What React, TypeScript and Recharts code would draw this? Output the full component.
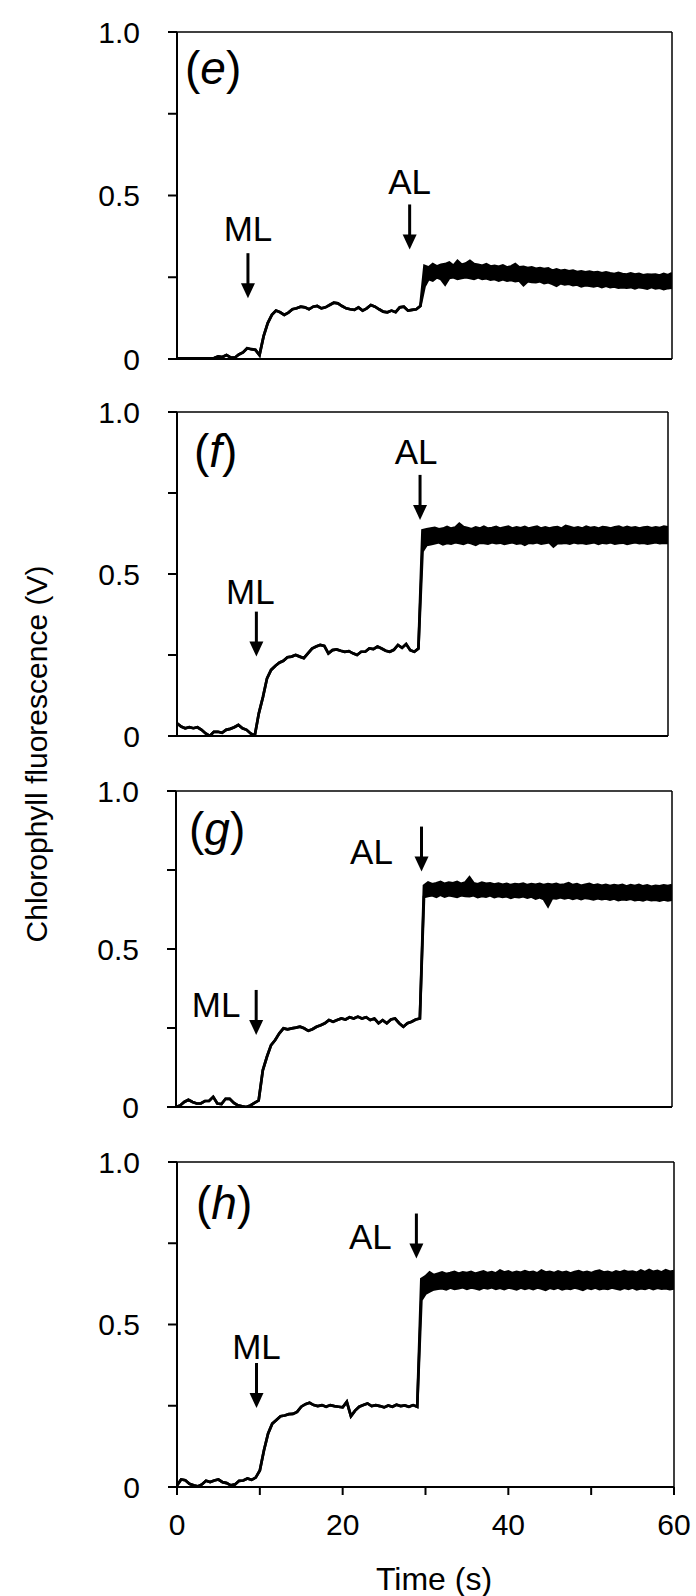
import React from "react";
import {
  ComposedChart,
  Area,
  XAxis,
  YAxis,
  ReferenceLine,
  ReferenceDot,
} from "recharts";

// sampling times (s), every 0.5 s
const times = [
  0, 0.5, 1, 1.5, 2, 2.5, 3, 3.5, 4, 4.5, 5, 5.5, 6, 6.5, 7, 7.5, 8, 8.5, 9, 9.5,
  10, 10.5, 11, 11.5, 12, 12.5, 13, 13.5, 14, 14.5, 15, 15.5, 16, 16.5, 17, 17.5, 18, 18.5, 19, 19.5,
  20, 20.5, 21, 21.5, 22, 22.5, 23, 23.5, 24, 24.5, 25, 25.5, 26, 26.5, 27, 27.5, 28, 28.5, 29, 29.5,
  30, 30.5, 31, 31.5, 32, 32.5, 33, 33.5, 34, 34.5, 35, 35.5, 36, 36.5, 37, 37.5, 38, 38.5, 39, 39.5,
  40, 40.5, 41, 41.5, 42, 42.5, 43, 43.5, 44, 44.5, 45, 45.5, 46, 46.5, 47, 47.5, 48, 48.5, 49, 49.5,
  50, 50.5, 51, 51.5, 52, 52.5, 53, 53.5, 54, 54.5, 55, 55.5, 56, 56.5, 57, 57.5, 58, 58.5, 59, 59.5,
  60,
];

// (e) quiet trace before actinic light, then noisy band (low/high edges)
const eBase = [
  0.002, 0.002, 0.002, 0.002, 0.002, 0.002, 0.002, 0.002, 0.002, 0.003,
  0.008, 0.006, 0.012, 0.005, 0.004, 0.014, 0.02, 0.033, 0.03, 0.028,
  0.012, 0.07, 0.11, 0.135, 0.148, 0.143, 0.135, 0.142, 0.152, 0.155,
  0.16, 0.158, 0.152, 0.16, 0.162, 0.155, 0.158, 0.165, 0.172, 0.17,
  0.162, 0.155, 0.152, 0.15, 0.158, 0.148, 0.155, 0.165, 0.16, 0.152,
  0.145, 0.143, 0.148, 0.143, 0.158, 0.16, 0.148, 0.15, 0.152, 0.162,
];
const eHigh = [
  0.285, 0.28, 0.29, 0.283, 0.288, 0.29, 0.295, 0.285, 0.3, 0.288,
  0.292, 0.3, 0.29, 0.288, 0.285, 0.29, 0.283, 0.285, 0.282, 0.286,
  0.28, 0.283, 0.29, 0.28, 0.282, 0.278, 0.28, 0.276, 0.278, 0.275,
  0.277, 0.27, 0.274, 0.27, 0.272, 0.268, 0.27, 0.266, 0.268, 0.265,
  0.267, 0.264, 0.266, 0.262, 0.265, 0.262, 0.26, 0.263, 0.26, 0.258,
  0.262, 0.258, 0.26, 0.256, 0.258, 0.257, 0.258, 0.255, 0.26, 0.256,
  0.262,
];
const eLow = [
  0.222, 0.245, 0.24, 0.25, 0.245, 0.228, 0.248, 0.25, 0.245, 0.248,
  0.25, 0.248, 0.245, 0.25, 0.245, 0.247, 0.243, 0.245, 0.24, 0.244,
  0.24, 0.242, 0.238, 0.24, 0.226, 0.238, 0.236, 0.235, 0.238, 0.232,
  0.235, 0.23, 0.224, 0.232, 0.228, 0.23, 0.226, 0.228, 0.222, 0.226,
  0.224, 0.222, 0.225, 0.22, 0.224, 0.22, 0.222, 0.218, 0.22, 0.218,
  0.22, 0.216, 0.22, 0.218, 0.215, 0.22, 0.216, 0.218, 0.214, 0.217,
  0.218,
];

// (f)
const fBase = [
  0.039, 0.029, 0.024, 0.027, 0.024, 0.027, 0.019, 0.008, 0.0, 0.013,
  0.013, 0.01, 0.019, 0.022, 0.027, 0.034, 0.024, 0.019, 0.008, 0.001,
  0.07, 0.12, 0.178, 0.204, 0.216, 0.226, 0.232, 0.243, 0.245, 0.25,
  0.245, 0.24, 0.255, 0.27, 0.276, 0.281, 0.278, 0.255, 0.265, 0.267,
  0.263, 0.26, 0.262, 0.255, 0.25, 0.26, 0.26, 0.27, 0.268, 0.276,
  0.27, 0.263, 0.26, 0.266, 0.281, 0.272, 0.284, 0.265, 0.26, 0.27,
];
const fHigh = [
  0.635, 0.638, 0.64, 0.642, 0.638, 0.64, 0.645, 0.64, 0.643, 0.655,
  0.645, 0.642, 0.638, 0.644, 0.64, 0.646, 0.64, 0.642, 0.645, 0.64,
  0.643, 0.646, 0.64, 0.644, 0.641, 0.645, 0.64, 0.643, 0.646, 0.64,
  0.644, 0.64, 0.643, 0.645, 0.64, 0.648, 0.645, 0.641, 0.644, 0.64,
  0.646, 0.642, 0.644, 0.64, 0.645, 0.643, 0.64, 0.644, 0.646, 0.641,
  0.645, 0.642, 0.644, 0.64, 0.643, 0.645, 0.641, 0.644, 0.642, 0.646,
  0.644,
];
const fLow = [
  0.57, 0.59, 0.592, 0.595, 0.598, 0.592, 0.596, 0.594, 0.598, 0.596,
  0.593, 0.598, 0.595, 0.59, 0.597, 0.596, 0.594, 0.598, 0.595, 0.597,
  0.593, 0.596, 0.598, 0.594, 0.596, 0.59, 0.597, 0.595, 0.598, 0.594,
  0.596, 0.598, 0.585, 0.596, 0.595, 0.597, 0.594, 0.598, 0.595, 0.597,
  0.594, 0.596, 0.598, 0.593, 0.597, 0.595, 0.598, 0.594, 0.596, 0.597,
  0.593, 0.596, 0.598, 0.595, 0.597, 0.594, 0.596, 0.598, 0.595, 0.597,
  0.596,
];

// (g)
const gBase = [
  0.0, 0.005, 0.016, 0.023, 0.016, 0.011, 0.011, 0.019, 0.019, 0.032,
  0.011, 0.009, 0.026, 0.026, 0.013, 0.005, 0.002, 0.0, 0.005, 0.013,
  0.021, 0.116, 0.159, 0.196, 0.212, 0.233, 0.249, 0.246, 0.249, 0.251,
  0.254, 0.249, 0.241, 0.246, 0.254, 0.259, 0.265, 0.275, 0.27, 0.275,
  0.28, 0.277, 0.284, 0.28, 0.286, 0.28, 0.284, 0.275, 0.28, 0.265,
  0.275, 0.265, 0.277, 0.28, 0.265, 0.254, 0.265, 0.27, 0.277, 0.28,
];
const gHigh = [
  0.7, 0.71, 0.705, 0.708, 0.712, 0.706, 0.71, 0.708, 0.712, 0.706,
  0.71, 0.726, 0.708, 0.705, 0.71, 0.706, 0.708, 0.704, 0.707, 0.703,
  0.706, 0.702, 0.705, 0.704, 0.707, 0.702, 0.705, 0.703, 0.706, 0.702,
  0.705, 0.703, 0.706, 0.702, 0.704, 0.708, 0.702, 0.705, 0.7, 0.703,
  0.706, 0.701, 0.704, 0.7, 0.703, 0.699, 0.702, 0.7, 0.703, 0.698,
  0.702, 0.699, 0.703, 0.698, 0.701, 0.697, 0.7, 0.698, 0.701, 0.699,
  0.702,
];
const gLow = [
  0.665, 0.668, 0.67, 0.665, 0.672, 0.666, 0.67, 0.668, 0.665, 0.67,
  0.668, 0.667, 0.67, 0.664, 0.668, 0.666, 0.67, 0.664, 0.668, 0.665,
  0.667, 0.662, 0.666, 0.664, 0.667, 0.663, 0.666, 0.66, 0.664, 0.658,
  0.636, 0.662, 0.66, 0.664, 0.66, 0.663, 0.659, 0.662, 0.658, 0.662,
  0.66, 0.657, 0.661, 0.658, 0.66, 0.656, 0.66, 0.655, 0.658, 0.656,
  0.659, 0.655, 0.657, 0.654, 0.658, 0.655, 0.656, 0.653, 0.657, 0.654,
  0.656,
];

// (h) actinic light comes on a little earlier, band starts at 29.5 s
const hBase = [
  0.005, 0.023, 0.021, 0.01, 0.005, 0.002, 0.008, 0.019, 0.015, 0.02,
  0.023, 0.015, 0.012, 0.005, 0.008, 0.019, 0.02, 0.026, 0.022, 0.029,
  0.051, 0.113, 0.165, 0.195, 0.206, 0.218, 0.22, 0.224, 0.225, 0.231,
  0.247, 0.255, 0.259, 0.252, 0.249, 0.252, 0.247, 0.252, 0.249, 0.247,
  0.245, 0.262, 0.218, 0.235, 0.247, 0.252, 0.257, 0.249, 0.252, 0.249,
  0.245, 0.251, 0.247, 0.253, 0.249, 0.251, 0.247, 0.252, 0.247,
];
const hHigh = [
  0.64, 0.648, 0.66, 0.652, 0.656, 0.66, 0.655, 0.658, 0.662, 0.656,
  0.66, 0.658, 0.662, 0.656, 0.66, 0.663, 0.658, 0.661, 0.657, 0.666,
  0.66, 0.663, 0.658, 0.662, 0.659, 0.664, 0.66, 0.662, 0.657, 0.666,
  0.66, 0.662, 0.658, 0.663, 0.659, 0.662, 0.657, 0.661, 0.664, 0.659,
  0.662, 0.658, 0.663, 0.666, 0.66, 0.662, 0.658, 0.663, 0.66, 0.665,
  0.661, 0.663, 0.659, 0.666, 0.661, 0.668, 0.662, 0.665, 0.66, 0.667,
  0.662, 0.664,
];
const hLow = [
  0.575, 0.595, 0.602, 0.608, 0.61, 0.612, 0.608, 0.614, 0.61, 0.612,
  0.615, 0.61, 0.614, 0.612, 0.608, 0.614, 0.611, 0.615, 0.61, 0.613,
  0.609, 0.614, 0.612, 0.608, 0.614, 0.61, 0.613, 0.609, 0.614, 0.611,
  0.607, 0.613, 0.61, 0.614, 0.608, 0.612, 0.61, 0.614, 0.611, 0.607,
  0.613, 0.61, 0.614, 0.609, 0.612, 0.61, 0.614, 0.611, 0.608, 0.613,
  0.61, 0.614, 0.608, 0.612, 0.61, 0.614, 0.609, 0.613, 0.61, 0.612,
  0.609, 0.611,
];

// arrow tips (time, value) for measuring light (ML) and actinic light (AL)
const eMarks = [
  { label: "ML", t: 8.6, v: 0.186 },
  { label: "AL", t: 28.2, v: 0.335 },
];
const fMarks = [
  { label: "ML", t: 9.7, v: 0.245 },
  { label: "AL", t: 29.7, v: 0.667 },
];
const gMarks = [
  { label: "ML", t: 9.7, v: 0.228 },
  { label: "AL", t: 29.7, v: 0.745 },
];
const hMarks = [
  { label: "ML", t: 9.6, v: 0.243 },
  { label: "AL", t: 28.9, v: 0.703 },
];

const yTicks = [0, 0.25, 0.5, 0.75, 1];
const xTicks = [0, 10, 20, 30, 40, 50, 60];

const FONT = '"Liberation Sans", Arial, Helvetica, sans-serif';
const W = 696;

function buildRows(base: number[], low: number[], high: number[]) {
  return times.map((t, i) => ({
    t,
    f: i < base.length ? [base[i], base[i]] : [low[i - base.length], high[i - base.length]],
  }));
}

const panels = [
  {
    id: "e", top: 32, bottom: 359, left: 177, right: 672,
    rows: buildRows(eBase, eLow, eHigh), marks: eMarks,
    text: [{ dx: 0, dy: -70 }, { dx: 0, dy: -68 }], lx: 185, ly: 84,
  },
  {
    id: "f", top: 412, bottom: 736, left: 177, right: 668,
    rows: buildRows(fBase, fLow, fHigh), marks: fMarks,
    text: [{ dx: -6, dy: -65 }, { dx: -4, dy: -68 }], lx: 194, ly: 467,
  },
  {
    id: "g", top: 791, bottom: 1107, left: 176, right: 672,
    rows: buildRows(gBase, gLow, gHigh), marks: gMarks,
    text: [{ dx: -40, dy: -30 }, { dx: -50, dy: -20 }], lx: 189, ly: 845,
  },
  {
    id: "h", top: 1162, bottom: 1487, left: 177, right: 674,
    rows: buildRows(hBase, hLow, hHigh), marks: hMarks,
    text: [{ dx: 0, dy: -62 }, { dx: -46, dy: -22 }], lx: 196, ly: 1219,
  },
];

function arrowShape(label: string, dx: number, dy: number) {
  return (p: any) => {
    const cx = p.cx;
    const cy = p.cy;
    return (
      <g>
        <line x1={cx} y1={cy - 45} x2={cx} y2={cy - 12} stroke="#000" strokeWidth={3} />
        <polygon points={`${cx - 7},${cy - 15} ${cx + 7},${cy - 15} ${cx},${cy}`} fill="#000" />
        <text
          x={cx + dx}
          y={cy + dy}
          textAnchor="middle"
          dominantBaseline="central"
          fontSize={35}
          fontFamily={FONT}
          fill="#000"
        >
          {label}
        </text>
      </g>
    );
  };
}

const yFmt = (v: number) => (v === 0 ? "0" : v === 0.5 ? "0.5" : v === 1 ? "1.0" : "");
const xFmt = (v: number) => (v % 20 === 0 ? String(v) : "");

function Panel({ p, last }: { p: any; last: boolean }) {
  const mt = 20;
  const xH = last ? 100 : 22;
  const plotH = p.bottom - p.top;
  return (
    <div style={{ position: "absolute", left: 0, top: p.top - mt }}>
      <ComposedChart
        width={W}
        height={mt + plotH + xH}
        data={p.rows}
        margin={{ top: mt, right: W - p.right, bottom: 0, left: 0 }}
      >
        <XAxis
          type="number"
          dataKey="t"
          domain={[0, 60]}
          ticks={xTicks}
          interval={0}
          allowDataOverflow
          height={xH}
          axisLine={{ stroke: "#000", strokeWidth: 2 }}
          tickLine={last ? { stroke: "#000", strokeWidth: 2 } : false}
          tickSize={8}
          tickMargin={19}
          tick={last ? { fill: "#000", fontSize: 30, fontFamily: FONT } : false}
          tickFormatter={xFmt}
        />
        <YAxis
          type="number"
          domain={[0, 1]}
          ticks={yTicks}
          interval={0}
          allowDataOverflow
          width={p.left}
          axisLine={{ stroke: "#000", strokeWidth: 2 }}
          tickLine={{ stroke: "#000", strokeWidth: 2 }}
          tickSize={9}
          tickMargin={28}
          tick={{ fill: "#000", fontSize: 30, fontFamily: FONT }}
          tickFormatter={yFmt}
        />
        <ReferenceLine y={1} stroke="#000" strokeWidth={1.5} />
        <ReferenceLine x={60} stroke="#000" strokeWidth={1.5} />
        <Area
          type="linear"
          dataKey="f"
          stroke="#000"
          strokeWidth={2.7}
          fill="#000"
          fillOpacity={1}
          dot={false}
          activeDot={false}
          isAnimationActive={false}
        />
        {p.marks.map((m: any, i: number) => (
          <ReferenceDot
            key={m.label}
            x={m.t}
            y={m.v}
            r={4}
            shape={arrowShape(m.label, p.text[i].dx, p.text[i].dy)}
          />
        ))}
      </ComposedChart>
    </div>
  );
}

export default function App() {
  return (
    <div
      style={{
        position: "absolute",
        left: 0,
        top: 0,
        width: W,
        height: 1596,
        background: "#fff",
        overflow: "hidden",
      }}
    >
      {panels.map((p, i) => (
        <Panel key={p.id} p={p} last={i === panels.length - 1} />
      ))}
      <svg
        width={W}
        height={1596}
        style={{ position: "absolute", left: 0, top: 0, pointerEvents: "none" }}
      >
        {panels.map((p) => (
          <text key={p.id} x={p.lx} y={p.ly} fontSize={46} fontFamily={FONT} fill="#000">
            (<tspan fontStyle="italic">{p.id}</tspan>)
          </text>
        ))}
        <text
          x={36}
          y={754}
          transform="rotate(-90 36 754)"
          textAnchor="middle"
          dominantBaseline="central"
          fontSize={30}
          fontFamily={FONT}
          fill="#000"
        >
          Chlorophyll fluorescence (V)
        </text>
        <text
          x={434}
          y={1579}
          textAnchor="middle"
          dominantBaseline="central"
          fontSize={32}
          fontFamily={FONT}
          fill="#000"
        >
          Time (s)
        </text>
      </svg>
    </div>
  );
}
